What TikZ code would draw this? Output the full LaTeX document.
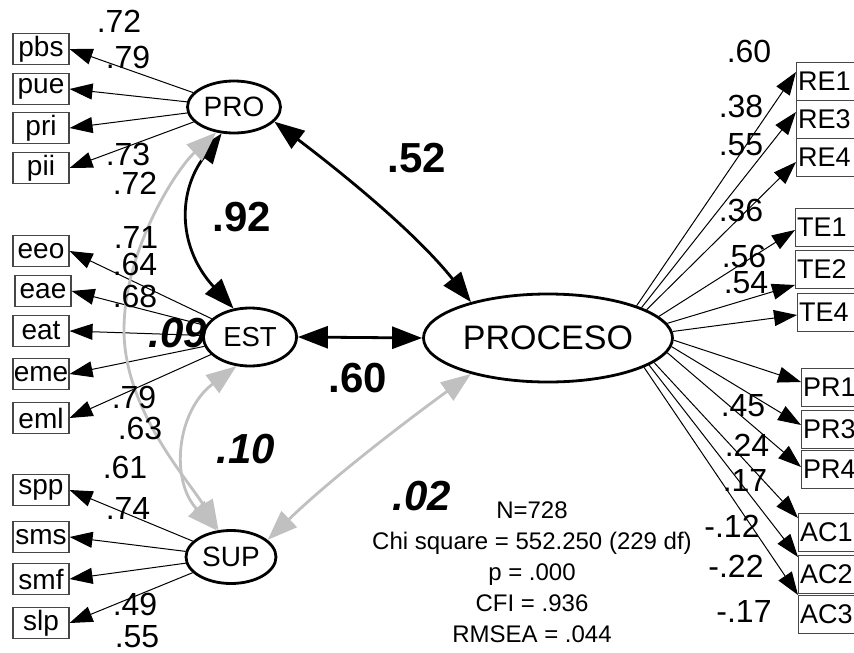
\documentclass[tikz,border=0pt]{standalone}
\usepackage{fontspec}
\setmainfont{Liberation Sans}
\usetikzlibrary{arrows.meta,shapes.geometric}
\definecolor{covgray}{RGB}{192,192,192}
\definecolor{boxline}{RGB}{70,70,70}
\begin{document}
\begin{tikzpicture}[x=1pt,y=-1pt,
  lbox/.style={draw=boxline, line width=1.1pt, minimum width=56pt, minimum height=31pt, inner sep=0pt, font=\fontsize{28}{30}\selectfont},
  rbox/.style={draw=boxline, line width=1.1pt, anchor=north west, text width=72pt, align=left, inner xsep=1.5pt, inner ysep=0pt, minimum height=38pt, font=\fontsize{27}{30}\selectfont},
  lat/.style={ellipse, draw, line width=2.8pt, inner sep=0pt},
  load/.style={line width=1pt, -{Triangle[length=23pt,width=16pt]}},
  cov/.style={line width=2.8pt, {Triangle[length=30pt,width=22pt]}-{Triangle[length=30pt,width=22pt]}},
  cblack/.style={cov, draw=black},
  cgray/.style={cov, draw=covgray},
  est/.style={font=\fontsize{32}{34}\selectfont, inner sep=0pt},
  bigc/.style={font=\fontsize{42}{44}\selectfont\bfseries, inner sep=0pt},
  bigi/.style={font=\fontsize{42}{44}\selectfont\bfseries\itshape, inner sep=0pt},
  stats/.style={font=\fontsize{24}{31}\selectfont, align=center, inner sep=0pt}
]
\useasboundingbox (0,0) rectangle (854,653);

% latent variables
\node[lat, minimum width=93pt, minimum height=52pt, font=\fontsize{28}{30}\selectfont] (PRO) at (234,107) {PRO};
\node[lat, minimum width=93pt, minimum height=58pt, font=\fontsize{27.5}{30}\selectfont] (EST) at (250,337) {EST};
\node[lat, minimum width=90pt, minimum height=53pt, font=\fontsize{28}{30}\selectfont] (SUP) at (231,557) {SUP};
\node[lat, minimum width=249pt, minimum height=88pt, font=\fontsize{34}{36}\selectfont] (PROCESO) at (548,338) {PROCESO};

% left indicators
\node[lbox] (pbs) at (41,49) {pbs};
\node[lbox] (pue) at (41,89) {pue};
\node[lbox] (pri) at (41,128) {pri};
\node[lbox] (pii) at (41,168) {pii};
\node[lbox] (eeo) at (41,251) {eeo};
\node[lbox] (eae) at (43,291) {eae};
\node[lbox] (eat) at (41,331) {eat};
\node[lbox] (eme) at (41,374) {eme};
\node[lbox] (eml) at (41,418) {eml};
\node[lbox] (spp) at (41,490) {spp};
\node[lbox] (sms) at (41,537) {sms};
\node[lbox] (smf) at (41,579) {smf};
\node[lbox] (slp) at (41,623) {slp};

% right indicators
\node[rbox] (RE1) at (796,62) {RE1};
\node[rbox] (RE3) at (796,100) {RE3};
\node[rbox] (RE4) at (796,138) {RE4};
\node[rbox] (TE1) at (795,208) {TE1};
\node[rbox] (TE2) at (795,250) {TE2};
\node[rbox] (TE4) at (797,293) {TE4};
\node[rbox] (PR1) at (801,368) {PR1};
\node[rbox] (PR3) at (801,410) {PR3};
\node[rbox] (PR4) at (801,450) {PR4};
\node[rbox] (AC1) at (798,513) {AC1};
\node[rbox] (AC2) at (798,555) {AC2};
\node[rbox] (AC3) at (798,595) {AC3};

% loadings, left
\foreach \b in {pbs,pue,pri,pii} \draw[load] (PRO) -- (\b.east);
\foreach \b in {eeo,eae,eat,eme,eml} \draw[load] (EST) -- (\b.east);
\foreach \b in {spp,sms,smf,slp} \draw[load] (SUP) -- (\b.east);

% loadings, right
\draw[load] (PROCESO.20) -- ([yshift=-10pt]RE1.north west);
\draw[load] (PROCESO.18) -- ([yshift=-12pt]RE3.north west);
\draw[load] (PROCESO.16) -- ([yshift=-24pt]RE4.north west);
\draw[load] (PROCESO.11) -- ([yshift=-22pt]TE1.north west);
\draw[load] (PROCESO.7) -- ([yshift=-35pt]TE2.north west);
\draw[load] (PROCESO.3.5) -- ([yshift=-22pt]TE4.north west);
\draw[load] (PROCESO.-1) -- ([yshift=-14pt]PR1.north west);
\draw[load] (PROCESO.-4) -- ([yshift=-15pt]PR3.north west);
\draw[load] (PROCESO.-7) -- ([yshift=-17pt]PR4.north west);
\draw[load] (PROCESO.-13.5) -- ([yshift=-5pt]AC1.north west);
\draw[load] (PROCESO.-15.5) -- ([yshift=-2pt]AC2.north west);
\draw[load] (PROCESO.-17.5) -- (AC3.north west);

% covariances
\draw[cblack] (PRO.245) .. controls +(-45,60) and +(-55,-60) .. (EST.120);
\draw[cblack] (PRO.340) .. controls +(70,53) and +(-55,-69) .. (PROCESO.155);
\draw[cblack] (EST.east) -- (PROCESO.west);
\coordinate (arcmid) at (124,330);
\draw[cgray] (PRO.235) .. controls +(-40,37) and +(0,-80) .. (arcmid) .. controls +(0,80) and +(-30,-50) .. (SUP.115);
\draw[cgray] (EST.245) .. controls +(-60,45) and +(-47,-50) .. (SUP.118);
\draw[cgray] (SUP.25) .. controls +(62,-60) and +(-70,51) .. (PROCESO.205);

% loading estimates, left
\node[est] (e1) at (119,21) {.72};
\node[est] (e2) at (128,57) {.79};
\node[est] (e3) at (128,154) {.73};
\node[est] (e4) at (135,183) {.72};
\node[est] (e5) at (136,237) {.71};
\node[est] (e6) at (135,264) {.64};
\node[est] (e7) at (135,296) {.68};
\node[est] (e8) at (134,397) {.79};
\node[est] (e9) at (140,428) {.63};
\node[est] (e10) at (125,467) {.61};
\node[est] (e11) at (128,508) {.74};
\node[est] (e12) at (135,604) {.49};
\node[est] (e13) at (137,637) {.55};

% loading estimates, right
\node[est] (r1) at (749,51) {.60};
\node[est] (r2) at (741,106) {.38};
\node[est] (r3) at (741,145) {.55};
\node[est] (r4) at (741,210) {.36};
\node[est] (r5) at (744,256) {.56};
\node[est] (r6) at (746,283) {.54};
\node[est] (r7) at (743,406) {.45};
\node[est] (r8) at (747,445) {.24};
\node[est] (r9) at (745,480) {.17};
\node[est] (r10) at (732,526) {-.12};
\node[est] (r11) at (736,566) {-.22};
\node[est] (r12) at (744,611) {-.17};

% correlations
\node[bigc] (c1) at (417,158) {.52};
\node[bigc] (c2) at (242,217) {.92};
\node[bigc] (c3) at (358,378) {.60};
\node[bigi] (c4) at (178,333) {.09};
\node[bigi] (c5) at (246,449) {.10};
\node[bigi] (c6) at (422,496) {.02};

% fit statistics
\node[stats] (fit) at (532,572) {N=728\\Chi square = 552.250 (229 df)\\p = .000\\CFI = .936\\RMSEA = .044};
\end{tikzpicture}
\end{document}
